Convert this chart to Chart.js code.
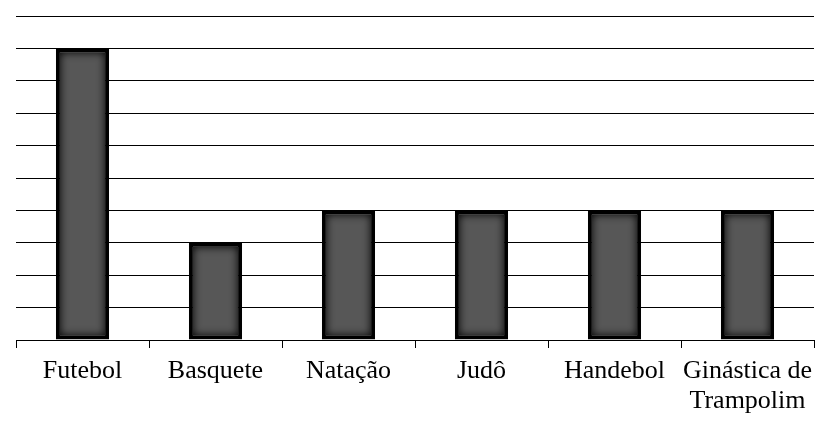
<!DOCTYPE html>
<html>
<head>
<meta charset="utf-8">
<script src="https://cdn.jsdelivr.net/npm/chart.js@4.4.1/dist/chart.umd.min.js"></script>
<style>
html,body{margin:0;padding:0;background:#fff;}
#wrap{width:830px;height:422px;}
</style>
</head>
<body>
<div id="wrap"><canvas id="c" width="830" height="422"></canvas></div>
<script>
const categories = ["Futebol", "Basquete", "Natação", "Judô", "Handebol", ["Ginástica de", "Trampolim"]];
const values = [9, 3, 4, 4, 4, 4];
const yMax = 10;

const innerGlow = {
  id: 'innerGlow',
  afterDatasetsDraw(chart) {
    const ctx = chart.ctx;
    const meta = chart.getDatasetMeta(0);
    const bw = 4;
    meta.data.forEach(bar => {
      const p = bar.getProps(['x', 'y', 'base', 'width'], true);
      const left = p.x - p.width / 2 + bw;
      const top = Math.min(p.y, p.base) + bw;
      const w = p.width - 2 * bw;
      const h = Math.abs(p.base - p.y) - 2 * bw;
      ctx.save();
      ctx.beginPath();
      ctx.rect(left, top, w, h);
      ctx.clip();
      ctx.shadowColor = 'rgba(0,0,0,1)';
      ctx.shadowBlur = 8;
      ctx.lineWidth = 8;
      ctx.strokeStyle = '#000';
      ctx.strokeRect(left - 4, top - 4, w + 8, h + 8);
      ctx.restore();
    });
  }
};

new Chart(document.getElementById('c'), {
  type: 'bar',
  data: {
    labels: categories,
    datasets: [{
      data: values,
      backgroundColor: '#575757',
      borderColor: '#000',
      borderWidth: 4,
      borderSkipped: false,
      categoryPercentage: 0.4,
      barPercentage: 1
    }]
  },
  options: {
    responsive: false,
    animation: false,
    layout: { padding: { left: 16, right: 16, top: 16, bottom: 0 } },
    plugins: { legend: { display: false }, tooltip: { enabled: false } },
    scales: {
      x: {
        grid: { display: true, drawOnChartArea: false, drawTicks: true, tickLength: 8, color: '#000', lineWidth: 1 },
        border: { display: true, color: '#000', width: 1 },
        ticks: {
          color: '#000',
          padding: 9,
          maxRotation: 0,
          autoSkip: false,
          font: { family: '"Liberation Serif", "Times New Roman", serif', size: 26, lineHeight: 1.12 }
        },
        afterFit(scale) { scale.height = 82; }
      },
      y: {
        min: 0,
        max: yMax,
        ticks: { display: false, stepSize: 1 },
        grid: { color: '#000', lineWidth: 1, drawTicks: false },
        border: { display: false },
        afterFit(scale) { scale.width = 0; }
      }
    }
  },
  plugins: [innerGlow]
});
</script>
</body>
</html>
